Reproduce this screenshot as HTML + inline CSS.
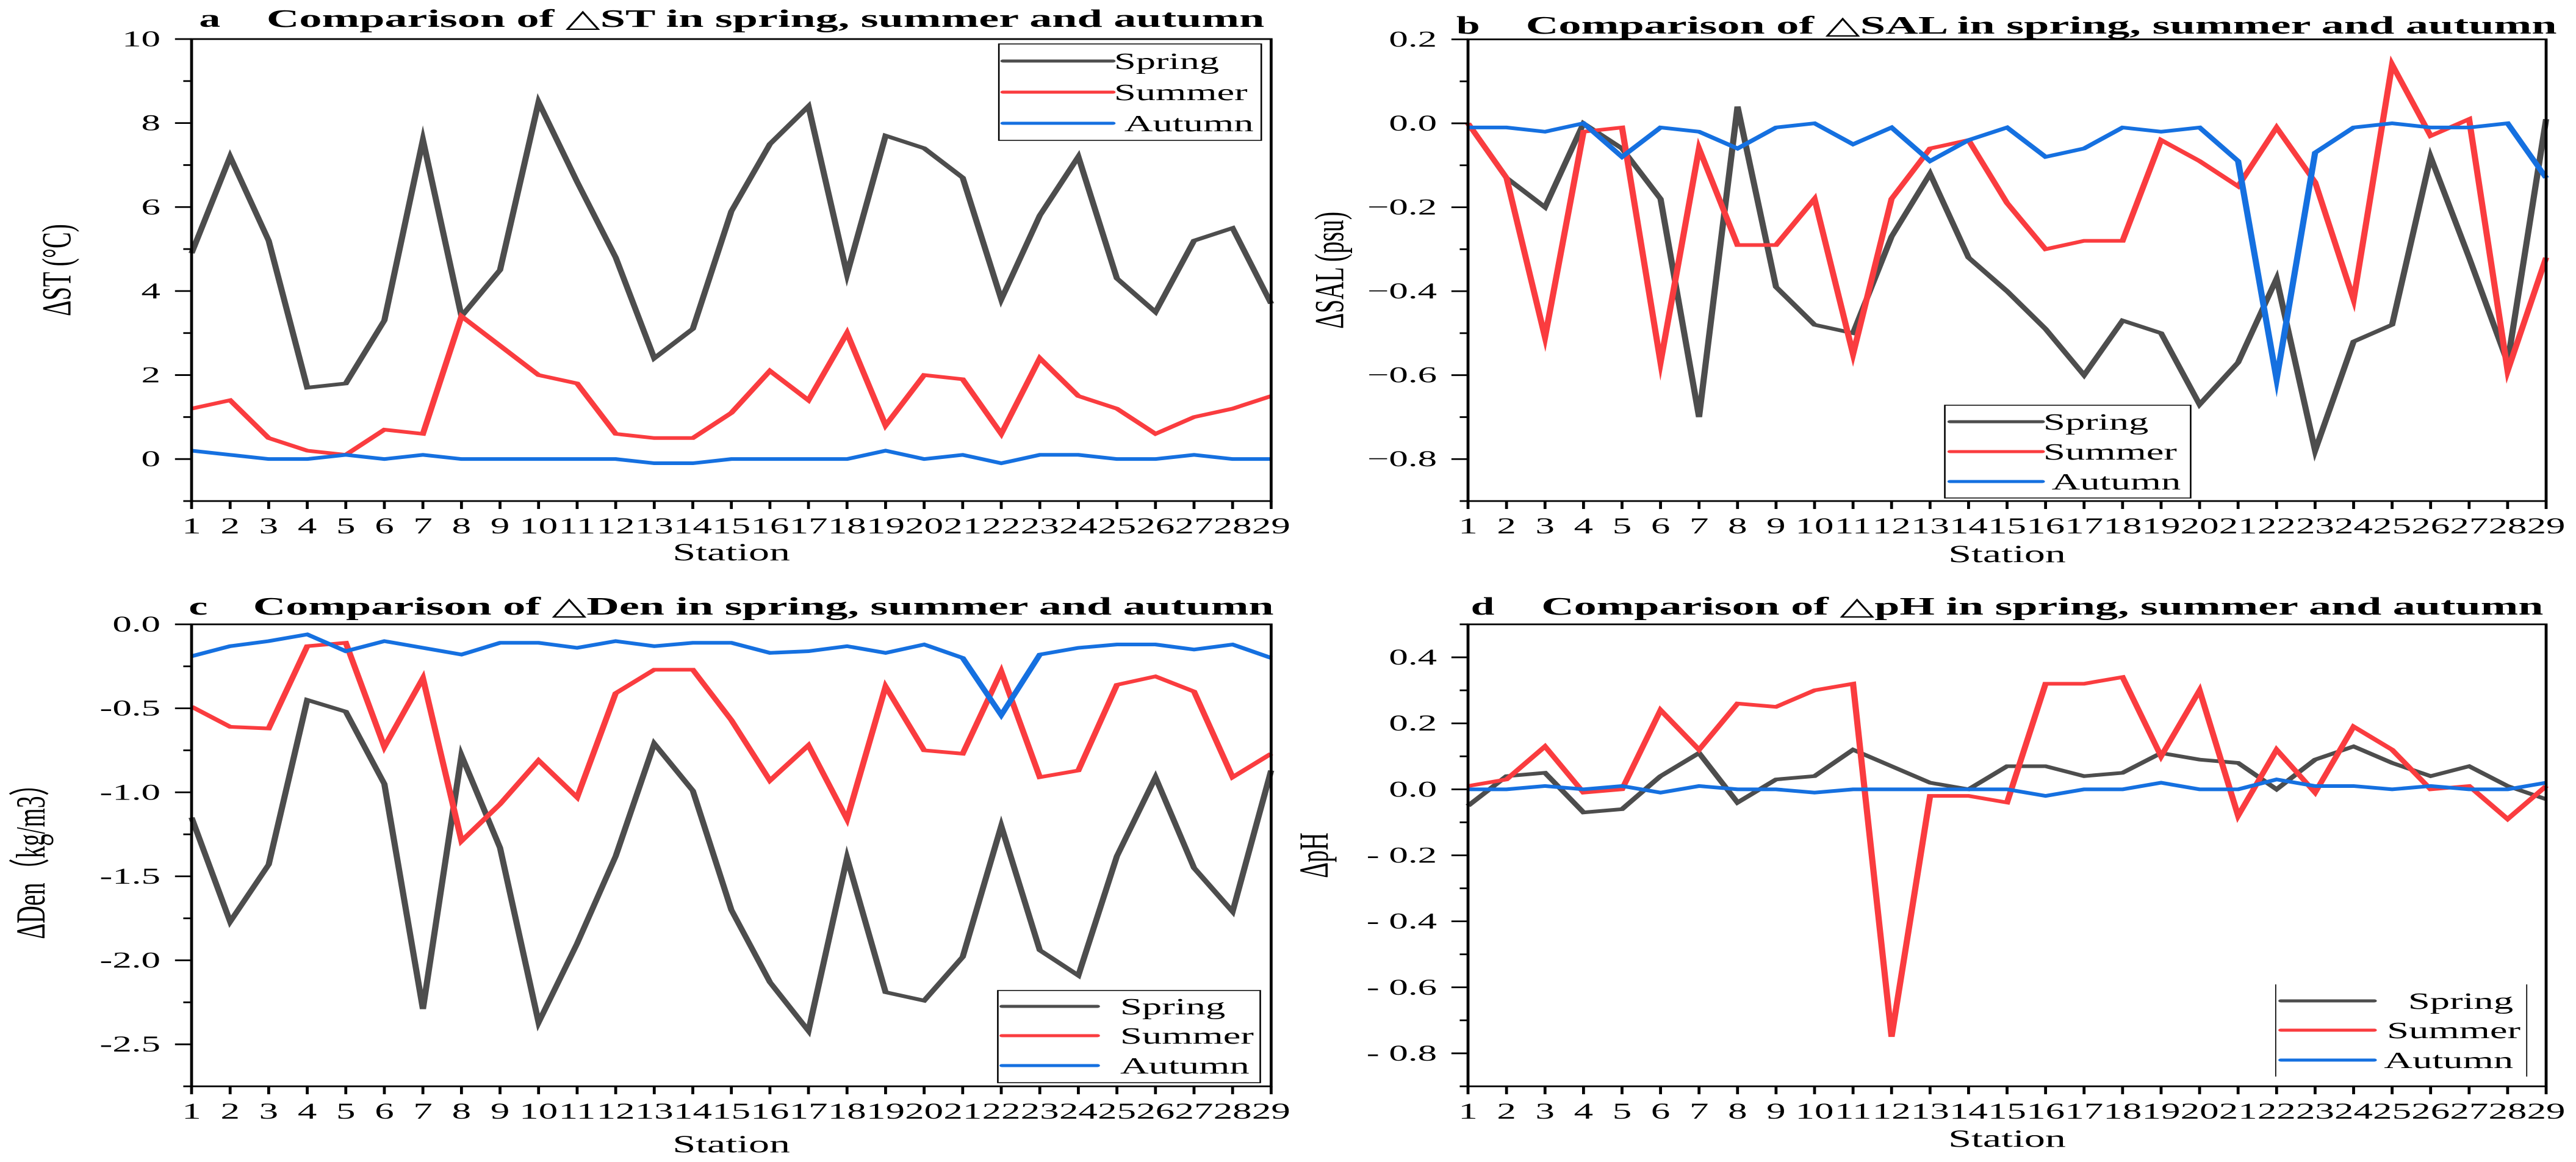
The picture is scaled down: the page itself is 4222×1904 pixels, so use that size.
<!DOCTYPE html>
<html><head><meta charset="utf-8"><style>
html,body{margin:0;padding:0;background:#fff;}
svg{display:block;}
text{font-family:"Liberation Serif","DejaVu Serif",serif;fill:#000;}
</style></head><body>
<svg id="fig" xmlns="http://www.w3.org/2000/svg" width="4222" height="1904" viewBox="0 0 2483.5 1904" preserveAspectRatio="none"></svg>
<script>
// ---- data ----
const stations = [1,2,3,4,5,6,7,8,9,10,11,12,13,14,15,16,17,18,19,20,21,22,23,24,25,26,27,28,29];
const stSpring = [4.9,7.2,5.2,1.7,1.8,3.3,7.6,3.4,4.5,8.5,6.6,4.8,2.4,3.1,5.9,7.5,8.4,4.4,7.7,7.4,6.7,3.8,5.8,7.2,4.3,3.5,5.2,5.5,3.7];
const stSummer = [1.2,1.4,0.5,0.2,0.1,0.7,0.6,3.4,2.7,2.0,1.8,0.6,0.5,0.5,1.1,2.1,1.4,3.0,0.8,2.0,1.9,0.6,2.4,1.5,1.2,0.6,1.0,1.2,1.5];
const stAutumn = [0.2,0.1,0,0,0.1,0,0.1,0,0,0,0,0,-0.1,-0.1,0,0,0,0,0.2,0,0.1,-0.1,0.1,0.1,0,0,0.1,0,0];
const salSpring = [0,-0.13,-0.2,0,-0.06,-0.18,-0.7,0.04,-0.39,-0.48,-0.5,-0.27,-0.12,-0.32,-0.4,-0.49,-0.6,-0.47,-0.5,-0.67,-0.57,-0.37,-0.78,-0.52,-0.48,-0.08,-0.32,-0.57,0.01];
const salSummer = [0,-0.13,-0.51,-0.02,-0.01,-0.57,-0.06,-0.29,-0.29,-0.18,-0.55,-0.18,-0.06,-0.04,-0.19,-0.3,-0.28,-0.28,-0.04,-0.09,-0.15,-0.01,-0.14,-0.42,0.14,-0.03,0.01,-0.59,-0.32];
const salAutumn = [-0.01,-0.01,-0.02,0,-0.08,-0.01,-0.02,-0.06,-0.01,0,-0.05,-0.01,-0.09,-0.04,-0.01,-0.08,-0.06,-0.01,-0.02,-0.01,-0.09,-0.61,-0.07,-0.01,0,-0.01,-0.01,0,-0.13];
const denSpring = [-1.15,-1.77,-1.43,-0.45,-0.52,-0.95,-2.29,-0.78,-1.33,-2.37,-1.9,-1.38,-0.71,-0.99,-1.7,-2.13,-2.42,-1.39,-2.19,-2.24,-1.98,-1.2,-1.94,-2.09,-1.38,-0.91,-1.45,-1.71,-0.87];
const denSummer = [-0.49,-0.61,-0.62,-0.13,-0.11,-0.73,-0.32,-1.29,-1.07,-0.81,-1.03,-0.41,-0.27,-0.27,-0.57,-0.93,-0.72,-1.16,-0.37,-0.75,-0.77,-0.28,-0.91,-0.87,-0.36,-0.31,-0.4,-0.91,-0.77];
const denAutumn = [-0.19,-0.13,-0.1,-0.06,-0.16,-0.1,-0.14,-0.18,-0.11,-0.11,-0.14,-0.1,-0.13,-0.11,-0.11,-0.17,-0.16,-0.13,-0.17,-0.12,-0.2,-0.54,-0.18,-0.14,-0.12,-0.12,-0.15,-0.12,-0.2];
const phSpring = [-0.05,0.04,0.05,-0.07,-0.06,0.04,0.11,-0.04,0.03,0.04,0.12,0.07,0.02,0,0.07,0.07,0.04,0.05,0.11,0.09,0.08,0,0.09,0.13,0.08,0.04,0.07,0.01,-0.03];
const phSummer = [0.01,0.03,0.13,-0.01,0,0.24,0.12,0.26,0.25,0.3,0.32,-0.75,-0.02,-0.02,-0.04,0.32,0.32,0.34,0.1,0.3,-0.08,0.12,-0.01,0.19,0.12,0,0.01,-0.09,0.01];
const phAutumn = [0,0,0.01,0,0.01,-0.01,0.01,0,0,-0.01,0,0,0,0,0,-0.02,0,0,0.02,0,0,0.03,0.01,0.01,0,0.01,0,0,0.02];
const stTicks = [0,2,4,6,8,10];
const stTickLabels = ["0","2","4","6","8","10"];
const salTicks = [-0.8,-0.6,-0.4,-0.2,0,0.2];
const salTickLabels = ["\u22120.8","\u22120.6","\u22120.4","\u22120.2","0.0","0.2"];
const denTicks = [-2.5,-2,-1.5,-1,-0.5,0];
const denTickLabels = ["-2.5","-2.0","-1.5","-1.0","-0.5","0.0"];
const phTicks = [-0.8,-0.6,-0.4,-0.2,0,0.2,0.4];
const phTickLabels = ["- 0.8","- 0.6","- 0.4","- 0.2","0.0","0.2","0.4"];
const seriesNames = ["Spring","Summer","Autumn"];
const seriesColors = ["#4d4d4d","#fa3c3f","#1570e0"];

const NS = "http://www.w3.org/2000/svg";
const svg = document.getElementById('fig');
function el(tag, attrs, parent){
  const e = document.createElementNS(NS, tag);
  for (const k in attrs) e.setAttribute(k, attrs[k]);
  (parent||svg).appendChild(e);
  return e;
}

function panel(cfg){
  const g = el('g', {});
  
  
  const L=cfg.left, R=cfg.right, T=cfg.top, B=cfg.bottom;
  const xs = i => L + (R-L)*(i-1)/28;
  const ys = v => T + (cfg.ymax - v)/(cfg.ymax - cfg.ymin)*(B-T);
  const t1 = el('text',{x:cfg.letterX, y:cfg.titleY, 'font-size':41, 'font-weight':'bold'}, g);
  t1.textContent = cfg.key;
  
  
  const t2 = el('text',{x:cfg.titleX, y:cfg.titleY, 'font-size':41, 'font-weight':'bold', textLength:cfg.titleLen, lengthAdjust:'spacingAndGlyphs'}, g);
  t2.textContent = cfg.title;
  
  
  [cfg.s1,cfg.s2,cfg.s3].forEach((arr,si)=>{
    const pts = arr.map((v,i)=> xs(stations[i]).toFixed(2)+','+ys(v).toFixed(2)).join(' ');
    const p = el('polyline',{points:pts, fill:'none', stroke:seriesColors[si], 'stroke-width':6, 'stroke-linejoin':'miter', 'stroke-miterlimit':10}, g);
    
    
  });
  const fr = el('rect',{x:L, y:T, width:R-L, height:B-T, fill:'none', stroke:'#000', 'stroke-width':2.8}, g);
  
  
  stations.forEach(s=>{
    const x = xs(s);
    el('line',{x1:x, x2:x, y1:B, y2:B+13, stroke:'#000','stroke-width':2.8}, g);
    const tl = el('text',{x:0, y:0, 'font-size':37, 'text-anchor':'middle', transform:'translate('+x+','+(B+53)+')'}, g);
    tl.textContent = String(s);
    
    
  });
  const step = cfg.ticks[1]-cfg.ticks[0];
  cfg.ticks.forEach((v,i)=>{
    const y = ys(v);
    el('line',{x1:L-16, x2:L, y1:y, y2:y, stroke:'#000','stroke-width':2.8}, g);
    const yl = el('text',{x:L-30, y:y+12, 'font-size':37, 'text-anchor':'end'}, g);
    yl.textContent = cfg.tickLabels[i];
    
    
  });
  for (let v = cfg.ticks[0]-step/2; v <= cfg.ymax+1e-9; v += step){
    if (v < cfg.ymin-1e-9) continue;
    const y = ys(v);
    el('line',{x1:L-8, x2:L, y1:y, y2:y, stroke:'#000','stroke-width':2.8}, g);
  }
  const xt = el('text',{x:(L+R)/2, y:cfg.xTitleY, 'font-size':40, 'text-anchor':'middle'}, g);
  xt.textContent = 'Station';
  
  
  const yt = el('text',{x:0, y:0, 'font-size':40, 'text-anchor':'middle', 'dominant-baseline':'central', transform:'translate('+cfg.yTitleX+','+((T+B)/2)+') rotate(-90)'}, g);
  yt.textContent = cfg.yTitle;
  
  
  const lg = el('g',{}, g);
  
  
  const Lg = cfg.legend;
  if (Lg.box) el('rect',{x:Lg.box[0], y:Lg.box[1], width:Lg.box[2]-Lg.box[0], height:Lg.box[3]-Lg.box[1], fill:'#fff', stroke:'#000', 'stroke-width':1.5}, lg);
  if (Lg.vlines) Lg.vlines.forEach(vx=> el('line',{x1:vx,x2:vx,y1:Lg.vy[0],y2:Lg.vy[1],stroke:'#000','stroke-width':1}, lg));
  seriesNames.forEach((n,i)=>{
    const ln = el('line',{x1:Lg.x1, x2:Lg.x2, y1:Lg.rows[i], y2:Lg.rows[i], stroke:seriesColors[i], 'stroke-width':5, 'stroke-linecap':'round'}, lg);
    
    
    const tx = el('text',{x:Lg.tx[i], y:Lg.rows[i]+13, 'font-size':38, 'text-anchor':Lg.anchor||'start'}, lg);
    tx.textContent = n;
    
    
  });
}

panel({key:'a', title:'Comparison of \u25B3ST in spring, summer and autumn', letterX:192, titleX:257, titleLen:962, titleY:44,
  left:184.7, right:1225.5, top:64, bottom:821, ymin:-1, ymax:10, ticks:stTicks, tickLabels:stTickLabels,
  s1:stSpring, s2:stSummer, s3:stAutumn, xTitleY:918, yTitleX:55, yTitle:'\u0394ST (\u00B0C)',
  legend:{box:[963,72,1216,230], x1:967, x2:1073, rows:[100,151,202], tx:[1074,1074,1084]}});
panel({key:'b', title:'Comparison of \u25B3SAL in spring, summer and autumn', letterX:1404, titleX:1471, titleLen:994, titleY:55,
  left:1415.3, right:2454.7, top:64.5, bottom:821, ymin:-0.9, ymax:0.2, ticks:salTicks, tickLabels:salTickLabels,
  s1:salSpring, s2:salSummer, s3:salAutumn, xTitleY:921, yTitleX:1282, yTitle:'\u0394SAL (psu)',
  legend:{box:[1875,664,2112,816], x1:1880, x2:1969, rows:[691,740,789], tx:[1970,1970,1978]}});
panel({key:'c', title:'Comparison of \u25B3Den in spring, summer and autumn', letterX:182, titleX:244, titleLen:984, titleY:1007,
  left:184.7, right:1225.5, top:1023, bottom:1780, ymin:-2.75, ymax:0, ticks:denTicks, tickLabels:denTickLabels,
  s1:denSpring, s2:denSummer, s3:denAutumn, xTitleY:1888, yTitleX:30, yTitle:'\u0394Den\uFF08kg/m3\uFF09',
  legend:{box:[962,1623,1215,1774], x1:966, x2:1058, rows:[1649,1697,1746], tx:[1080,1080,1080]}});
panel({key:'d', title:'Comparison of \u25B3pH in spring, summer and autumn', letterX:1418, titleX:1486, titleLen:966, titleY:1007,
  left:1415.3, right:2454.7, top:1023, bottom:1780, ymin:-0.9, ymax:0.5, ticks:phTicks, tickLabels:phTickLabels,
  s1:phSpring, s2:phSummer, s3:phAutumn, xTitleY:1879, yTitleX:1267, yTitle:'\u0394pH',
  legend:{vlines:[2194,2436], vy:[1613,1764], x1:2199, x2:2289, rows:[1640,1688,1737], tx:[2423,2430,2423], anchor:'end'}});
</script>
</body></html>
